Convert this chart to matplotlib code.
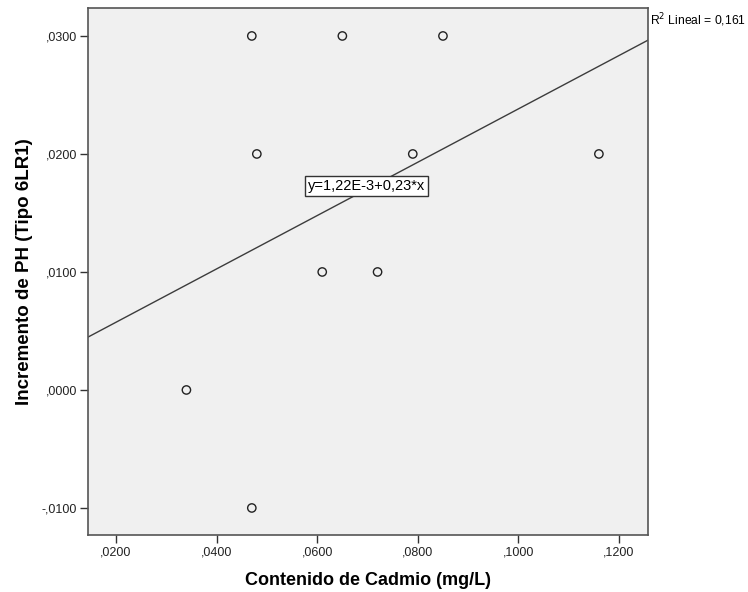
import numpy as np
import matplotlib.pyplot as plt
from matplotlib.ticker import FuncFormatter

plt.rcParams['font.family'] = ['Liberation Sans', 'DejaVu Sans']

# Data
cadmio = [0.047, 0.065, 0.085, 0.048, 0.079, 0.116, 0.061, 0.072, 0.034, 0.047]
incremento_ph = [0.030, 0.030, 0.030, 0.020, 0.020, 0.020, 0.010, 0.010, 0.000, -0.010]
x_ticks = [0.02, 0.04, 0.06, 0.08, 0.10, 0.12]
y_ticks = [-0.01, 0.00, 0.01, 0.02, 0.03]
ecuacion = "y=1,22E-3+0,23*x"
r2_texto = "R$^2$ Lineal = 0,161"


def spss_fmt(v, pos):
    s = f"{v:.4f}".replace(".", ",")
    if s.startswith("-0"):
        s = "-" + s[2:]
    elif s.startswith("0"):
        s = s[1:]
    return s


x = np.array(cadmio)
y = np.array(incremento_ph)
b, a = np.polyfit(x, y, 1)

fig = plt.figure(figsize=(7.48, 5.92), dpi=100)
ax = fig.add_axes([0.1176, 0.0963, 0.7483, 0.8902])
ax.set_facecolor('#f0f0f0')

xlim = (0.01443, 0.1257)
ylim = (-0.01229, 0.03237)
ax.set_xlim(xlim)
ax.set_ylim(ylim)

xl = np.array(xlim)
ax.plot(xl, a + b * xl, color='#3c3c3c', lw=1.0, zorder=2)
ax.scatter(x, y, s=36, facecolors='none', edgecolors='#222222', linewidths=1.0, zorder=3)

ax.set_xticks(x_ticks)
ax.set_yticks(y_ticks)
ax.xaxis.set_major_formatter(FuncFormatter(spss_fmt))
ax.yaxis.set_major_formatter(FuncFormatter(spss_fmt))
ax.tick_params(direction='out', length=6, width=1, color='#333333',
               labelsize=9, labelcolor='#222222', pad=2)
for sp in ax.spines.values():
    sp.set_color('#555555')
    sp.set_linewidth(1.2)

ax.set_xlabel("Contenido de Cadmio (mg/L)", fontsize=13, fontweight='bold', labelpad=10)
ax.set_ylabel("Incremento de PH (Tipo 6LR1)", fontsize=13.5, fontweight='bold', labelpad=6)

ax.text(0.498, 0.663, ecuacion, transform=ax.transAxes, fontsize=10.5, ha='center', va='center',
        bbox=dict(boxstyle='square,pad=0.2', fc='white', ec='#333333', lw=1), zorder=4)
fig.text(0.869, 0.966, r2_texto, fontsize=8.7, ha='left', va='center')

fig.savefig("out.png", dpi=100)
